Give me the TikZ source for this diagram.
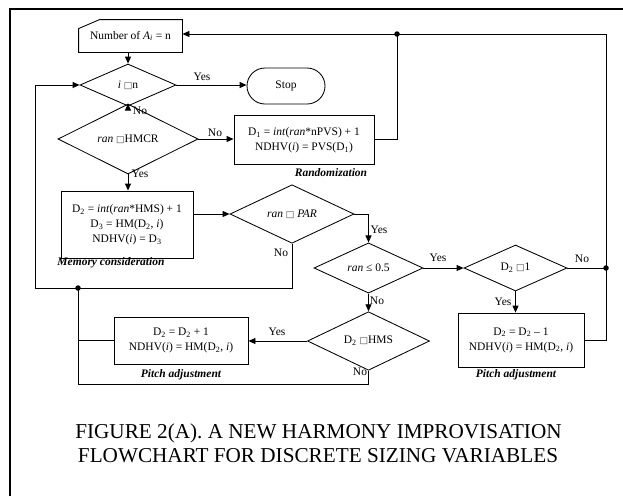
\documentclass[tikz,border=0pt]{standalone}
\usepackage{fontspec}
\setmainfont{Liberation Serif}
\newfontfamily\dvfont{DejaVu Sans}
\usetikzlibrary{shapes.geometric,shapes.misc,arrows.meta,calc}
\newcommand\bx{{\dvfont\fontsize{9}{9}\selectfont\color{black!75}□}}
\begin{document}
\begin{tikzpicture}[x=1pt,y=-1pt,line width=0.85pt,
  >={Triangle[length=7pt,width=6pt]},
  font=\fontsize{11.5}{15}\selectfont,
  box/.style={draw,rectangle,inner sep=2pt,align=center},
  dec/.style={draw,diamond,inner sep=0pt},
  term/.style={draw,rounded rectangle,inner sep=2pt},
  lbl/.style={inner sep=0pt},
  sect/.style={inner sep=0pt,font=\fontsize{11.5}{14}\selectfont\bfseries\itshape},
  dot/.style={circle,fill,inner sep=0pt,minimum size=5.5pt},
  captxt/.style={inner sep=0pt,anchor=base,font=\fontsize{21.2}{24}\selectfont}]
\useasboundingbox (0,0) rectangle (623,496);
% frame
\draw[line width=1.8pt] (10,496) -- (10,9) -- (623,9);
% nodes
\node[inner sep=0pt,minimum width=103pt,minimum height=32pt] (inp) at (130.5,36) {Number of \textit{A}\textsubscript{\textit{i}} = n};
\draw (inp.south west) -- ([yshift=-9pt]inp.north west) -- ([xshift=21pt]inp.north west) -- (inp.north east) -- (inp.south east) -- cycle;
\node[dec,minimum width=96pt,minimum height=42pt] (d1) at (128,85) {\textit{i} \bx n};
\node[term,minimum width=82pt,minimum height=36pt] (stop) at (286,86) {Stop};
\node[dec,minimum width=140pt,minimum height=41pt] (d2) at (128,139) {\textit{ran} \bx HMCR};
\node[box,minimum width=140pt,minimum height=49pt] (rnd) at (304,140) {D\textsubscript{1} = \textit{int}(\textit{ran}*nPVS) + 1\\NDHV(\textit{i}) = PVS(D\textsubscript{1})};
\node[box,minimum width=132pt,minimum height=67pt] (mem) at (127,224.5) {D\textsubscript{2} = \textit{int}(\textit{ran}*HMS) + 1\\D\textsubscript{3} = HM(D\textsubscript{2}, \textit{i})\\NDHV(\textit{i}) = D\textsubscript{3}};
\node[dec,minimum width=124pt,minimum height=45pt] (par) at (292,214) {\textit{ran} \bx\ \textit{PAR}};
\node[dec,minimum width=109pt,minimum height=40pt] (q5) at (368.5,268) {\textit{ran} ≤ 0.5};
\node[dec,minimum width=103pt,minimum height=46pt] (pm1) at (515.5,268) {D\textsubscript{2} \bx 1};
\node[dec,minimum width=122pt,minimum height=42pt] (hms) at (368.5,341) {D\textsubscript{2} \bx HMS};
\node[box,minimum width=134pt,minimum height=47pt] (pa1) at (181,340.5) {D\textsubscript{2} = D\textsubscript{2} + 1\\NDHV(\textit{i}) = HM(D\textsubscript{2}, \textit{i})};
\node[box,minimum width=126pt,minimum height=54pt] (pa2) at (521,340) {D\textsubscript{2} = D\textsubscript{2} -- 1\\NDHV(\textit{i}) = HM(D\textsubscript{2}, \textit{i})};
% section labels
\node[sect] (lrnd) at (331,173) {Randomization};
\node[sect] (lmem) at (111,263) {Memory consideration};
\node[sect] (lpa1) at (181,375) {Pitch adjustment};
\node[sect] (lpa2) at (516,375) {Pitch adjustment};
% junctions
\coordinate (dotTop) at (397,34);
\coordinate (ctr) at (606,34);
\coordinate (dotRight) at (606,268);
\coordinate (dotLeft) at (78,288);
\coordinate (cl) at (35,288);
\coordinate (cb) at (78,384);
% connectors
\draw[->] (d1.north |- inp.south) -- (d1.north);
\draw[->] (d1.east) -- (d1.east -| stop.west);
\draw[->] (d1.south) -- (d2.north);
\draw[->] (d2.east) -- (d2.east -| rnd.west);
\draw (rnd.east |- d2.east) -- (d2.east -| dotTop) -- (dotTop);
\draw[->] (dotTop) -- (dotTop -| inp.east);
\draw[->] (d2.south) -- (d2.south |- mem.north);
\draw[->] (par.west -| mem.east) -- (par.west);
\draw[->] (par.east) -- (par.east -| q5.north) -- (q5.north);
\draw[->] (par.south) -- (par.south |- cl) -- (cl) -- (cl |- d1.west) -- (d1.west);
\draw[->] (q5.east) -- (pm1.west);
\draw[->] (q5.south) -- (hms.north);
\draw[->] (pm1.south) -- (pm1.south |- pa2.north);
\draw[->] (hms.west) -- (hms.west -| pa1.east);
\draw (hms.south) -- (hms.south |- cb) -- (cb) -- (dotLeft);
\draw (pa1.west) -- (pa1.west -| dotLeft);
\draw (pm1.east) -- (dotRight);
\draw (pa2.east) -- (pa2.east -| dotRight) -- (ctr) -- (dotTop);
\node[dot] (jt) at (dotTop) {};
\node[dot] (jr) at (dotRight) {};
\node[dot] (jl) at (dotLeft) {};
% branch labels
\node[lbl] (y1) at (202,77) {Yes};
\node[lbl] (n1) at (140,111) {No};
\node[lbl] (n2) at (215,133) {No};
\node[lbl] (y2) at (140,174) {Yes};
\node[lbl] (n3) at (281,253) {No};
\node[lbl] (y3) at (379,230) {Yes};
\node[lbl] (y4) at (438,258) {Yes};
\node[lbl] (n4) at (377,301) {No};
\node[lbl] (n5) at (582,259) {No};
\node[lbl] (y5) at (503,302) {Yes};
\node[lbl] (y6) at (277,332) {Yes};
\node[lbl] (n6) at (360,372) {No};
% caption
\node[captxt] (cap1) at (318.5,438) {FIGURE 2(A). A NEW HARMONY IMPROVISATION};
\node[captxt] (cap2) at (318,462) {FLOWCHART FOR DISCRETE SIZING VARIABLES};
\end{tikzpicture}
\end{document}
